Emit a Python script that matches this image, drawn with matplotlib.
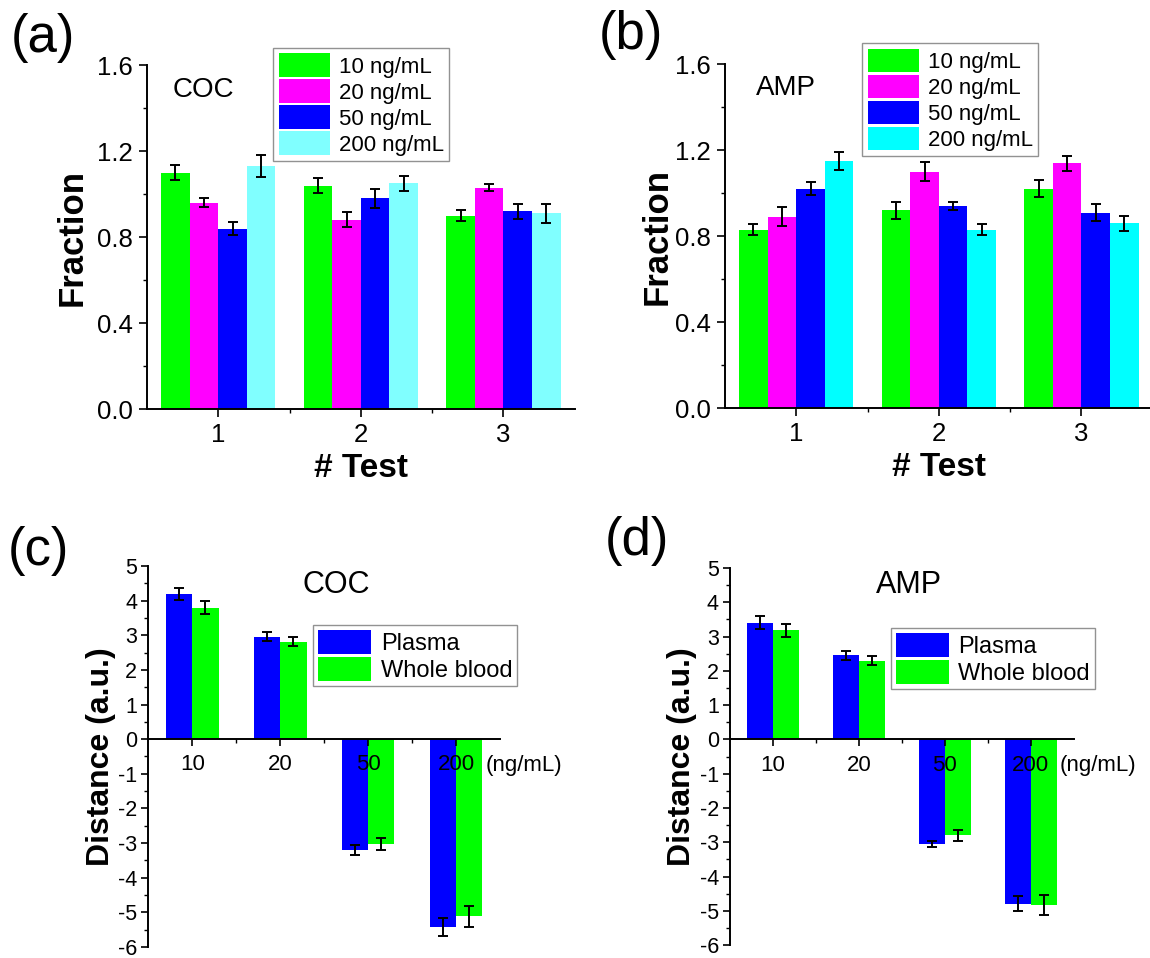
import numpy as np
import matplotlib
matplotlib.use('Agg')
import matplotlib.pyplot as plt
from matplotlib.ticker import MultipleLocator, FixedLocator

plt.rcParams['font.family'] = ['Liberation Sans', 'DejaVu Sans']
plt.rcParams['axes.unicode_minus'] = False

# data
tests = [1, 2, 3]
conc_labels = ['10 ng/mL', '20 ng/mL', '50 ng/mL', '200 ng/mL']
coc_frac = [[1.10, 1.04, 0.90], [0.96, 0.88, 1.03], [0.84, 0.98, 0.92], [1.13, 1.05, 0.91]]
coc_frac_err = [[0.035, 0.035, 0.025], [0.02, 0.035, 0.015], [0.03, 0.045, 0.035], [0.05, 0.035, 0.045]]
amp_frac = [[0.83, 0.92, 1.02], [0.89, 1.10, 1.14], [1.02, 0.94, 0.91], [1.15, 0.83, 0.86]]
amp_frac_err = [[0.025, 0.04, 0.04], [0.045, 0.045, 0.035], [0.03, 0.02, 0.04], [0.04, 0.025, 0.035]]

conc = ['10', '20', '50', '200']
sample_labels = ['Plasma', 'Whole blood']
coc_plasma = [4.2, 2.96, -3.21, -5.42]
coc_plasma_err = [0.17, 0.12, 0.14, 0.26]
coc_blood = [3.8, 2.81, -3.02, -5.11]
coc_blood_err = [0.19, 0.13, 0.17, 0.30]
amp_plasma = [3.41, 2.45, -3.05, -4.79]
amp_plasma_err = [0.19, 0.12, 0.10, 0.23]
amp_blood = [3.19, 2.30, -2.80, -4.83]
amp_blood_err = [0.19, 0.13, 0.15, 0.29]

cols_a = ['#00ff00', '#ff00ff', '#0000ff', '#80ffff']
cols_b = ['#00ff00', '#ff00ff', '#0000ff', '#00ffff']
cols_cd = ['#0000ff', '#00ff00']

fig = plt.figure(figsize=(11.5, 9.58), dpi=100)

ekw = dict(ecolor='black', elinewidth=1.4, capsize=3.5, capthick=1.4)


def frac_panel(rect, vals, errs, cols, name, label_x, legend_xy, name_xy):
    ax = fig.add_axes(rect)
    x = np.array(tests)
    offs = [-0.3, -0.1, 0.1, 0.3]
    for i in range(4):
        ax.bar(x + offs[i], vals[i], 0.2, yerr=errs[i], color=cols[i],
               label=conc_labels[i], linewidth=0, error_kw=ekw)
    ax.set_xlim(0.5, 3.5)
    ax.set_ylim(0, 1.6)
    ax.set_xticks(tests)
    ax.xaxis.set_minor_locator(FixedLocator([1.5, 2.5]))
    ax.yaxis.set_minor_locator(MultipleLocator(0.2))
    ax.set_yticks([0, 0.4, 0.8, 1.2, 1.6])
    ax.set_yticklabels(['0.0', '0.4', '0.8', '1.2', '1.6'])
    ax.spines['top'].set_visible(False)
    ax.spines['right'].set_visible(False)
    for s in ['left', 'bottom']:
        ax.spines[s].set_linewidth(1.4)
    ax.tick_params(which='major', direction='out', length=6, width=1.2, labelsize=18.5, pad=4)
    ax.tick_params(which='minor', direction='out', length=3, width=1.0)
    ax.set_ylabel('Fraction', fontsize=25, fontweight='bold')
    ax.yaxis.set_label_coords(label_x, 0.5)
    ax.set_xlabel('# Test', fontsize=24, fontweight='bold')
    ax.xaxis.set_label_coords(0.5, -0.128)
    leg = ax.legend(loc='upper left', bbox_to_anchor=legend_xy, bbox_transform=fig.transFigure,
                    fontsize=16, handlelength=2.3, handleheight=1.25, labelspacing=0.08,
                    handletextpad=0.4, borderpad=0.25, borderaxespad=0, fancybox=False)
    leg.get_frame().set_edgecolor('#777777')
    leg.get_frame().set_linewidth(1.0)
    fig.text(name_xy[0], name_xy[1], name, fontsize=20, ha='center', va='center')
    return ax


def dist_panel(rect, p, pe, b, be, name, label_x, legend_xy, name_xy):
    ax = fig.add_axes(rect)
    x = np.arange(1, 5)
    ax.bar(x - 0.15, p, 0.3, yerr=pe, color=cols_cd[0], label=sample_labels[0],
           linewidth=0, error_kw=ekw)
    ax.bar(x + 0.15, b, 0.3, yerr=be, color=cols_cd[1], label=sample_labels[1],
           linewidth=0, error_kw=ekw)
    ax.set_xlim(0.5, 4.5)
    ax.set_ylim(-6, 5)
    ax.set_xticks(x)
    ax.set_xticklabels(conc)
    ax.xaxis.set_minor_locator(FixedLocator([1.5, 2.5, 3.5]))
    ax.yaxis.set_major_locator(MultipleLocator(1))
    ax.yaxis.set_minor_locator(MultipleLocator(0.5))
    ax.spines['top'].set_visible(False)
    ax.spines['right'].set_visible(False)
    ax.spines['bottom'].set_position(('data', 0))
    for s in ['left', 'bottom']:
        ax.spines[s].set_linewidth(1.4)
    ax.tick_params(which='major', direction='out', length=5, width=1.2, labelsize=15.5, pad=3)
    ax.tick_params(axis='x', which='major', pad=6, labelsize=16)
    ax.tick_params(which='minor', direction='out', length=3, width=1.0)
    ax.text(4.34, -0.75, '(ng/mL)', fontsize=16, ha='left', va='center')
    ax.set_ylabel('Distance (a.u.)', fontsize=23, fontweight='bold')
    ax.yaxis.set_label_coords(label_x, 0.5)
    leg = ax.legend(loc='upper left', bbox_to_anchor=legend_xy, bbox_transform=fig.transFigure,
                    fontsize=17, handlelength=2.25, handleheight=1.2, labelspacing=0.08,
                    handletextpad=0.4, borderpad=0.2, borderaxespad=0, fancybox=False)
    leg.get_frame().set_edgecolor('#777777')
    leg.get_frame().set_linewidth(1.0)
    fig.text(name_xy[0], name_xy[1], name, fontsize=22, ha='center', va='center')
    return ax


frac_panel([0.1278, 0.573, 0.372, 0.359], coc_frac, coc_frac_err, cols_a, 'COC',
           -0.136, (0.2374, 0.950), (0.177, 0.906))
frac_panel([0.6304, 0.574, 0.372, 0.359], amp_frac, amp_frac_err, cols_b, 'AMP',
           -0.120, (0.7496, 0.955), (0.683, 0.908))
dist_panel([0.129, 0.0115, 0.3057, 0.3977], coc_plasma, coc_plasma_err, coc_blood, coc_blood_err,
           'COC', -0.093, (0.2726, 0.3476), (0.292, 0.389))
dist_panel([0.6348, 0.0135, 0.299, 0.3936], amp_plasma, amp_plasma_err, amp_blood, amp_blood_err,
           'AMP', -0.096, (0.7748, 0.3445), (0.790, 0.389))

# panel letters
fig.text(0.009, 0.960, '(a)', fontsize=38, va='center', ha='left')
fig.text(0.521, 0.963, '(b)', fontsize=38, va='center', ha='left')
fig.text(0.007, 0.425, '(c)', fontsize=38, va='center', ha='left')
fig.text(0.526, 0.435, '(d)', fontsize=38, va='center', ha='left')

fig.savefig('out.png', dpi=100)
